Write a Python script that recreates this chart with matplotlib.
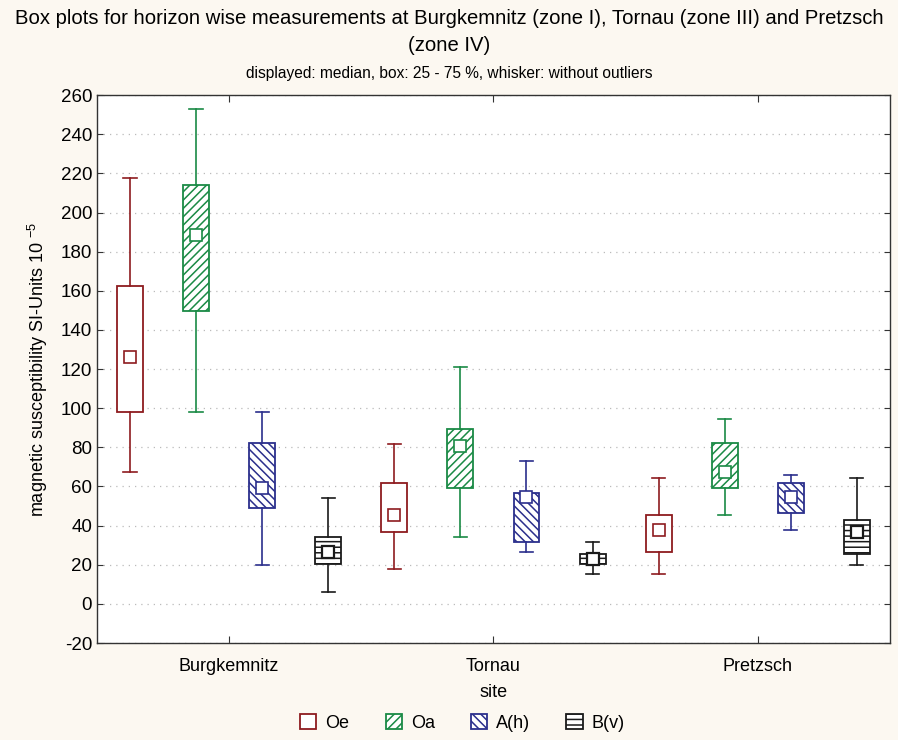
import matplotlib
matplotlib.use('Agg')
import matplotlib.pyplot as plt
from matplotlib.patches import Patch

sites = ['Burgkemnitz', 'Tornau', 'Pretzsch']
horizons = ['Oe', 'Oa', 'A(h)', 'B(v)']

# statistics per horizon, one value per site (Burgkemnitz, Tornau, Pretzsch)
oe_low = [67.4, 17.7, 15.3]
oe_q1 = [98.3, 36.6, 26.6]
oe_med = [126.0, 45.5, 37.8]
oe_q3 = [162.5, 61.7, 45.5]
oe_high = [217.8, 81.9, 64.4]

oa_low = [98.3, 34.1, 45.5]
oa_q1 = [149.5, 59.4, 59.4]
oa_med = [188.6, 80.6, 67.6]
oa_q3 = [214.3, 89.4, 82.1]
oa_high = [253.0, 121.0, 94.5]

ah_low = [20.1, 26.7, 37.8]
ah_q1 = [49.2, 31.8, 46.7]
ah_med = [59.4, 54.5, 54.5]
ah_q3 = [82.0, 56.7, 61.7]
ah_high = [98.2, 73.2, 66.1]

bv_low = [6.3, 15.3, 20.1]
bv_q1 = [20.3, 20.4, 25.4]
bv_med = [26.4, 22.8, 36.6]
bv_q3 = [34.2, 25.5, 42.8]
bv_high = [54.2, 31.5, 64.4]

yticks = list(range(-20, 261, 20))

stats_by_h = [
    (oe_low, oe_q1, oe_med, oe_q3, oe_high),
    (oa_low, oa_q1, oa_med, oa_q3, oa_high),
    (ah_low, ah_q1, ah_med, ah_q3, ah_high),
    (bv_low, bv_q1, bv_med, bv_q3, bv_high),
]
colors = ['#8e1b1f', '#1a8a45', '#2b2f8c', '#1a1a1a']
hatches = ['', '////', '\\\\\\\\', '---']

BG = '#fcf8f1'
plt.rcParams['hatch.linewidth'] = 1.1
plt.rcParams['axes.unicode_minus'] = False
plt.rcParams['font.family'] = ['Liberation Sans', 'DejaVu Sans']

fig = plt.figure(figsize=(8.98, 7.40), dpi=100, facecolor=BG)
ax = fig.add_axes([0.108, 0.131, 0.883, 0.7405])
ax.set_facecolor('white')

for j, (lo, q1, med, q3, hi) in enumerate(stats_by_h):
    stats = []
    pos = []
    for i in range(len(sites)):
        stats.append(dict(whislo=lo[i], q1=q1[i], med=med[i], q3=q3[i],
                          whishi=hi[i], fliers=[]))
        pos.append(i + (j - 1.5) * 0.25)
    c = colors[j]
    res = ax.bxp(stats, positions=pos, widths=0.098, capwidths=0.05,
                 patch_artist=True, showfliers=False, manage_ticks=False,
                 boxprops=dict(facecolor='white', edgecolor=c, linewidth=1.3,
                               hatch=hatches[j]),
                 whiskerprops=dict(color=c, linewidth=1.2),
                 capprops=dict(color=c, linewidth=1.2),
                 medianprops=dict(visible=False))
    for b in res['boxes']:
        b.set_hatch(hatches[j])
        b.set_edgecolor(c)
        try:
            b.set_hatchcolor(c)
        except Exception:
            pass
    ax.plot(pos, med, linestyle='none', marker='s', markersize=8,
            markerfacecolor='white', markeredgecolor=c,
            markeredgewidth=1.6 if j == 3 else 1.2, zorder=5)

ax.set_xlim(-0.5, 2.5)
ax.set_ylim(-20, 260)
ax.set_yticks(yticks)
ax.set_xticks(range(len(sites)))
ax.set_xticklabels(sites, fontsize=13)
ax.tick_params(axis='y', labelsize=13.5, direction='in', length=4,
               right=True, color='#333333')
ax.tick_params(axis='x', direction='in', length=5, top=True, pad=11,
               color='#333333')
ax.yaxis.grid(True, linestyle=(0, (1, 4)), color='#bbbbbb', linewidth=0.9)
ax.set_axisbelow(True)
for s in ax.spines.values():
    s.set_color('#333333')
    s.set_linewidth(1.0)

ax.set_xlabel('site', fontsize=13, labelpad=6)
ax.set_ylabel(r'magnetic susceptibility SI-Units 10 $^{\mathregular{-5}}$',
              fontsize=13, labelpad=8)

narrow = ['Liberation Sans Narrow', 'Liberation Sans', 'DejaVu Sans']
fig.text(0.5, 0.975, 'Box plots for horizon wise measurements at Burgkemnitz (zone I), '
         'Tornau (zone III) and Pretzsch', ha='center', va='center',
         fontsize=14.6, family=narrow)
fig.text(0.5, 0.939, '(zone IV)', ha='center', va='center', fontsize=14.6,
         family=narrow)
fig.text(0.5, 0.901, 'displayed: median, box: 25 - 75 %, whisker: without outliers',
         ha='center', va='center', fontsize=11.2, family=narrow)

handles = [Patch(facecolor='white', edgecolor=colors[j], hatch=hatches[j],
                 linewidth=1.3) for j in range(4)]
fig.legend(handles, horizons, loc='center', bbox_to_anchor=(0.515, 0.023),
           ncol=4, frameon=False, fontsize=13, handlelength=0.9,
           handleheight=0.9, columnspacing=2.0, handletextpad=0.5)

fig.savefig('out.png', dpi=100, facecolor=BG)
